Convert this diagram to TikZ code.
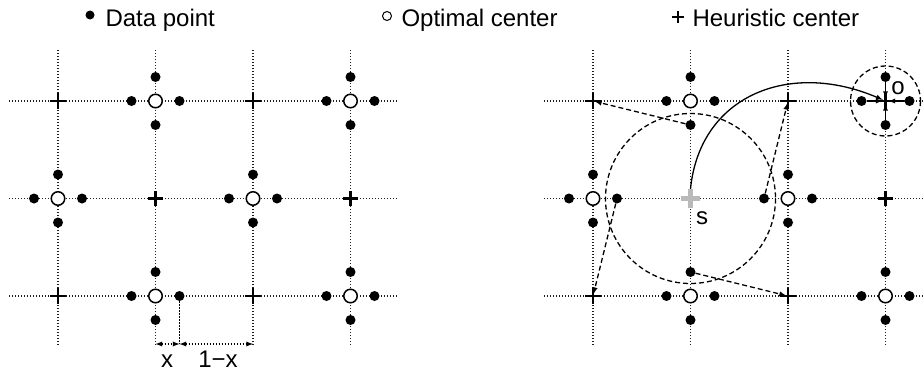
\documentclass[tikz,border=0pt]{standalone}
\usepackage{fontspec}
\setmainfont{Liberation Sans}
\usepackage{tikz}
\definecolor{gridline}{RGB}{30,30,30}
\definecolor{startgray}{RGB}{185,185,185}

\begin{document}
\begin{tikzpicture}[x=1pt, y=-1pt,
  font=\fontsize{24}{28}\selectfont,
  gridln/.style={dash pattern=on 1.2pt off 1.8pt, line width=1.2pt, gridline},
  datapt/.style={circle, fill=black, inner sep=0pt, minimum size=10pt},
  optpt/.style={circle, draw=black, line width=1.5pt, fill=white, inner sep=0pt, minimum size=13.5pt},
  heupt/.style={inner sep=0pt, minimum size=15pt},
  plusarm/.style={line width=2.4pt},
  moveto/.style={dash pattern=on 5pt off 3pt, line width=1.3pt, -latex, shorten >=2pt},
  pullin/.style={line width=1.3pt, -latex, shorten >=3pt},
  ring/.style={dash pattern=on 5pt off 3pt, line width=1.3pt},
  dimln/.style={dash pattern=on 1.5pt off 1.5pt, line width=1.3pt}]
  \useasboundingbox (0,0) rectangle (923,372);

  % Legend
  \node[datapt, minimum size=9pt] (keydata) at (90,15) {};
  \node[anchor=base west] (keydatatxt) at (102,27) {Data point};
  \node[circle, draw, line width=1pt, inner sep=0pt, minimum size=9pt] (keyopt) at (387,16) {};
  \node[anchor=base west] (keyopttxt) at (398,27) {Optimal center};
  \node[heupt, minimum size=11pt] (keyheu) at (678,17) {};
  \draw[line width=1.1pt] (keyheu.north) -- (keyheu.south) (keyheu.west) -- (keyheu.east);
  \node[anchor=base west] (keyheutxt) at (689,27) {Heuristic center};

  % Grid lines of both panels
  \foreach \dx/\xa/\xb in {0/9/397, 535/544/923} {
    \foreach \i in {0,...,3}
      \draw[gridln] (58+97.5*\i+\dx, 50) -- (58+97.5*\i+\dx, 345);
    \foreach \j in {0,1,2}
      \draw[gridln] (\xa, 101+97.5*\j) -- (\xb, 101+97.5*\j);
  }

  % Centres and data points (L = left panel, R = right panel)
  \foreach \p/\dx/\r in {L/0/0, R/535/1} {
    \foreach \i in {0,...,3} {
      \foreach \j in {0,1,2} {
        \pgfmathtruncatemacro{\odd}{mod(\i+\j,2)}
        \pgfmathtruncatemacro{\tgt}{\r*(\i==3)*(\j==0)}
        \pgfmathtruncatemacro{\st}{\r*(\i==1)*(\j==1)}
        \pgfmathsetmacro{\cx}{58+97.5*\i+\dx}
        \pgfmathsetmacro{\cy}{101+97.5*\j}
        \ifnum\odd=1
          \node[datapt] (\p-\i-\j-n) at (\cx, \cy-24) {};
          \node[datapt] (\p-\i-\j-e) at (\cx+24, \cy) {};
          \node[datapt] (\p-\i-\j-s) at (\cx, \cy+24) {};
          \node[datapt] (\p-\i-\j-w) at (\cx-24, \cy) {};
          \ifnum\tgt=0
            \node[optpt] (\p-\i-\j) at (\cx, \cy) {};
          \else
            \node[heupt] (\p-\i-\j) at (\cx, \cy) {};
            \draw[plusarm] (\p-\i-\j.north) -- (\p-\i-\j.south) (\p-\i-\j.west) -- (\p-\i-\j.east);
          \fi
        \else
          \ifnum\st=0
            \node[heupt] (\p-\i-\j) at (\cx, \cy) {};
            \draw[plusarm] (\p-\i-\j.north) -- (\p-\i-\j.south) (\p-\i-\j.west) -- (\p-\i-\j.east);
          \fi
        \fi
      }
    }
  }

  % Distance labels
  \coordinate (dimA) at (155.5,344);
  \coordinate (dimB) at (179.5,344);
  \coordinate (dimC) at (253,344);
  \draw[dimln] (L-1-2-e) -- (dimB);
  \draw[dimln, latex-latex] (dimA) -- (dimB);
  \draw[dimln, latex-latex] (dimB) -- (dimC);
  \node[anchor=base, inner sep=0pt] (xlbl) at (167,367) {x};
  \node[anchor=base, inner sep=0pt] (onemx) at (218,367) {1−x};

  % Start centre s
  \node[heupt, minimum size=19pt] (S) at (690.5,198.5) {};
  \draw[startgray, line width=5.5pt] (S.north) -- (S.south) (S.west) -- (S.east);
  \node (slabel) at (702,218) {s};
  \draw[ring] (S.center) circle[radius=85];

  % Moves of the heuristic centres
  \draw[moveto] (R-1-0-s) -- (R-0-0.center);
  \draw[moveto] (R-0-1-e) -- (R-0-2.center);
  \draw[moveto] (R-2-1-w) -- (R-2-0.center);
  \draw[moveto] (R-1-2-n) -- (R-2-2.center);

  % Target centre o
  \draw[ring] (R-3-0.center) circle[radius=35];
  \foreach \d in {n,e,s,w}
    \draw[pullin] (R-3-0-\d) -- (R-3-0.center);
  \node (olabel) at (898,88) {o};
  \draw[line width=1.3pt, -latex, shorten >=3pt] (S.north) .. controls (700,95) and (790,60) .. (R-3-0.center);
\end{tikzpicture}
\end{document}
